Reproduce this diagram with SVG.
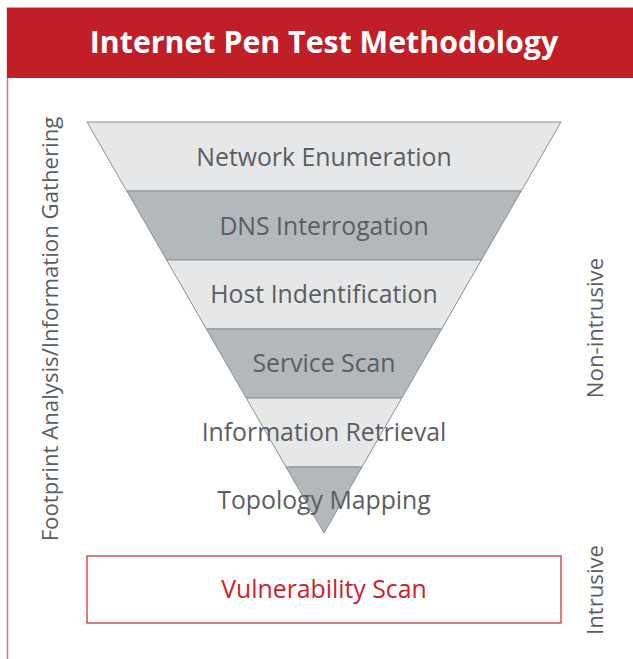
<svg xmlns="http://www.w3.org/2000/svg" width="633" height="659" viewBox="0 0 633 659">
<style>
.band-l{fill:#e6e7e8;stroke:#8c9194;stroke-width:1}
.band-d{fill:#b2b8bb;stroke:#8c9194;stroke-width:1}
.lbl{font-family:"Open Sans","Liberation Sans",sans-serif;font-size:24.8px;fill:#5b5e61;text-anchor:middle}
.side{font-family:"Open Sans","Liberation Sans",sans-serif;font-size:22.2px;fill:#5b5e61;text-anchor:middle}
</style>
<rect x="0" y="0" width="633" height="659" fill="#ffffff"/>
<g id="frame">
<rect x="7.5" y="8" width="640" height="660" fill="#ffffff" stroke="#d9777b" stroke-width="1.5"/>
<rect x="7" y="8" width="626" height="70" fill="#c01f27"/>
<text x="324" y="53" font-family="'Open Sans','Liberation Sans',sans-serif" font-size="30.3" font-weight="bold" fill="#ffffff" text-anchor="middle">Internet Pen Test Methodology</text>
</g>
<g id="funnel">
<g id="network-enumeration">
<polygon class="band-l" points="87,122 561,122 521.2,191 126.8,191"/>
<text class="lbl" x="324" y="166">Network Enumeration</text>
</g>
<g id="dns-interrogation">
<polygon class="band-d" points="126.8,191 521.2,191 481.4,260 166.6,260"/>
<text class="lbl" x="324" y="235">DNS Interrogation</text>
</g>
<g id="host-identification">
<polygon class="band-l" points="166.6,260 481.4,260 441.6,329 206.4,329"/>
<text class="lbl" x="324" y="303">Host Indentification</text>
</g>
<g id="service-scan">
<polygon class="band-d" points="206.4,329 441.6,329 401.8,398 246.2,398"/>
<text class="lbl" x="324" y="372">Service Scan</text>
</g>
<g id="information-retrieval">
<polygon class="band-l" points="246.2,398 401.8,398 362,467 286,467"/>
<text class="lbl" x="324" y="441">Information Retrieval</text>
</g>
<g id="topology-mapping">
<polygon class="band-d" points="286,467 362,467 324,533"/>
<text class="lbl" x="324" y="509">Topology Mapping</text>
</g>
</g>
<g id="vulnerability-scan">
<rect x="87" y="556" width="474" height="67" fill="#ffffff" stroke="#c9242c" stroke-width="1.2"/>
<text class="lbl" x="324" y="598" style="fill:#c9242c">Vulnerability Scan</text>
</g>
<g id="side-labels">
<text class="side" transform="translate(58,329) rotate(-90)">Footprint Analysis/Information Gathering</text>
<text class="side" transform="translate(603,328) rotate(-90)">Non-intrusive</text>
<text class="side" transform="translate(603,590) rotate(-90)">Intrusive</text>
</g>
<g id="connectors"></g>
</svg>
